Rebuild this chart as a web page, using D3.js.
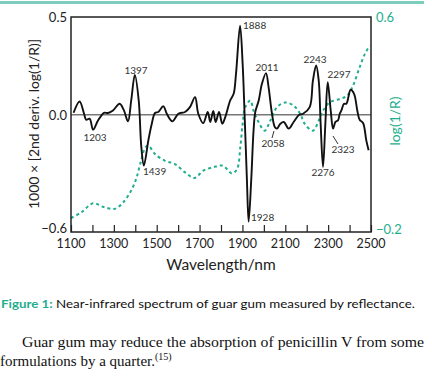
<!DOCTYPE html>
<html>
<head>
<meta charset="utf-8">
<script src="https://cdn.jsdelivr.net/npm/d3@7"></script>
<style>
  body { margin: 0; background: #fff; }
  text { font-family: "Lato", "DejaVu Sans", sans-serif; }
</style>
</head>
<body>
<script>
var width = 432,
    height = 389;

// 2nd derivative spectrum (left axis)
var derivNm = [1112, 1140, 1161, 1171, 1187, 1203, 1226, 1254, 1273, 1296, 1327, 1347, 1366, 1381, 1398, 1416, 1428, 1440,
  1461, 1477, 1492, 1507, 1531, 1547, 1573, 1601, 1632, 1655, 1679, 1694, 1717, 1738, 1750, 1764, 1775, 1791, 1806,
  1820, 1843, 1859, 1870, 1889, 1901, 1910, 1921, 1929, 1941, 1952, 1960, 1976, 1991, 2010, 2022, 2038, 2051, 2061,
  2077, 2093, 2116, 2139, 2165, 2183, 2214, 2229, 2244, 2256, 2265, 2276, 2287, 2298, 2312, 2323, 2334, 2346, 2354,
  2362, 2374, 2385, 2405, 2421, 2436, 2447, 2463, 2478, 2489];
var derivVal = [0.01, 0.068, 0.005, -0.026, -0.02, -0.077, -0.03, 0.01, 0.009, 0.022, 0.056, 0.022, -0.034, 0.073, 0.204, 0.073, -0.163, -0.26,
  -0.131, -0.046, 0.009, 0.014, 0.043, 0.005, -0.034, 0.005, 0.014, 0.039, 0.09, 0.005, -0.043, 0.014, -0.037, 0.019, -0.037, 0.014, -0.046,
  -0.012, 0.073, 0.107, 0.209, 0.456, 0.26, 0.005, -0.335, -0.547, -0.335, -0.08, 0.014, 0.073, 0.158, 0.213, 0.141, 0.005, -0.063, -0.071,
  -0.046, -0.037, -0.071, -0.037, 0.0, 0.005, 0.039, 0.175, 0.252, 0.175, -0.046, -0.267, -0.046, 0.167, 0.022, -0.071, -0.037, -0.029, 0.005,
  0.022, 0.056, 0.056, 0.128, 0.107, 0.022, -0.026, -0.042, -0.131, -0.182];

// log(1/R) spectrum (right axis)
var logNm = [1100, 1148, 1203, 1249, 1304, 1343, 1381, 1405, 1425, 1447, 1461, 1492, 1539, 1585, 1632, 1676, 1717, 1764, 1808,
  1851, 1875, 1890, 1901, 1913, 1937, 1952, 1976, 2004, 2030, 2061, 2100, 2139, 2170, 2191, 2229, 2256, 2276, 2307, 2354,
  2389, 2416, 2447, 2471, 2494];
var logVal = [-0.148, -0.127, -0.093, -0.106, -0.114, -0.09, -0.046, 0.0, 0.059, 0.115, 0.121, 0.09, 0.065, 0.053, 0.022, 0.001, 0.028, 0.041, 0.047,
  0.018, 0.034, 0.115, 0.202, 0.264, 0.289, 0.251, 0.208, 0.177, 0.214, 0.264, 0.282, 0.27, 0.239, 0.202, 0.177, 0.214, 0.251, 0.282, 0.295,
  0.307, 0.344, 0.413, 0.462, 0.493];

var xTicks = [1100, 1300, 1500, 1700, 1900, 2100, 2300, 2500];
var yLeftTicks = [0.5, 0.0, -0.6];
var yRightTicks = [0.6, -0.2];

var peakNames = ["1203", "1397", "1439", "1888", "1928", "2011", "2058", "2243", "2276", "2297", "2323"];

var teal = "#1fae8e";

var x = d3.scaleLinear().domain([1100, 2500]).range([71, 371]);
var yL = d3.scaleLinear().domain([-0.6, 0.5]).range([232, 17]);
var yR = d3.scaleLinear().domain([-0.2, 0.6]).range([232, 17]);

var svg = d3.select("body").append("svg")
    .attr("width", width)
    .attr("height", height);

// teal rule at top
svg.append("rect")
    .attr("x", 0).attr("y", 1)
    .attr("width", 424).attr("height", 3)
    .attr("fill", "#7fcdbd");

// zero line
svg.append("line")
    .attr("x1", x(1100)).attr("x2", x(2500))
    .attr("y1", yL(0)).attr("y2", yL(0))
    .attr("stroke", "#777").attr("stroke-width", 1.5);

// x ticks (inside)
svg.append("g")
    .attr("transform", "translate(0," + yL(-0.6) + ")")
    .call(d3.axisBottom(x).tickValues(d3.range(1100, 2501, 100)).tickSize(-7).tickFormat(""))
    .call(g => g.select(".domain").remove())
    .selectAll("line").attr("stroke", "#222").attr("stroke-width", 1.2);

var xLab = svg.append("g").attr("font-size", 12.5).attr("text-anchor", "middle");
xTicks.forEach(function(t) {
  xLab.append("text").attr("x", x(t)).attr("y", 248).attr("fill", "#222").text(t);
});

svg.append("text")
    .attr("x", 221).attr("y", 270)
    .attr("text-anchor", "middle")
    .attr("font-size", 15.5)
    .attr("fill", "#222")
    .text("Wavelength/nm");

function fmt(t) {
  return t < 0 ? "\u2212" + Math.abs(t).toFixed(1) : t.toFixed(1);
}

yLeftTicks.forEach(function(t) {
  svg.append("text")
    .attr("x", 67).attr("y", t < 0 ? yL(t) + 1 : yL(t) + 5)
    .attr("text-anchor", "end")
    .attr("font-size", 13)
    .attr("fill", "#222")
    .text(fmt(t));
});

yRightTicks.forEach(function(t) {
  svg.append("text")
    .attr("x", 376).attr("y", t < 0 ? yR(t) + 2 : yR(t) + 5)
    .attr("font-size", 13)
    .attr("fill", teal)
    .text(fmt(t));
});

svg.append("text")
    .attr("transform", "translate(39,124) rotate(-90)")
    .attr("text-anchor", "middle")
    .attr("font-size", 14)
    .attr("fill", "#222")
    .text("1000 \u00d7 [2nd deriv. log(1/R)]");

svg.append("text")
    .attr("transform", "translate(400,121) rotate(-90)")
    .attr("text-anchor", "middle")
    .attr("font-size", 14)
    .attr("fill", teal)
    .text("log(1/R)");

// log(1/R) dashed
var logData = logNm.map(function(d, i) { return [d, logVal[i]]; });
svg.append("path")
    .datum(logData)
    .attr("fill", "none")
    .attr("stroke", teal)
    .attr("stroke-width", 2)
    .attr("stroke-dasharray", "3,3")
    .attr("d", d3.line().x(d => x(d[0])).y(d => yR(d[1])).curve(d3.curveCatmullRom));

// derivative
var derivData = derivNm.map(function(d, i) { return [d, derivVal[i]]; });
svg.append("path")
    .datum(derivData)
    .attr("fill", "none")
    .attr("stroke", "#111")
    .attr("stroke-width", 1.9)
    .attr("d", d3.line().x(d => x(d[0])).y(d => yL(d[1])).curve(d3.curveCatmullRom));

// frame
svg.append("rect")
    .attr("x", x(1100)).attr("y", yL(0.5))
    .attr("width", x(2500) - x(1100)).attr("height", yL(-0.6) - yL(0.5))
    .attr("fill", "none")
    .attr("stroke", "#222")
    .attr("stroke-width", 1.5);

// peak labels
var peakPos = {
  "1203": [95, 141, "middle"], "1397": [136, 74, "middle"], "1439": [143, 175, "start"],
  "1888": [243, 29, "start"], "1928": [251, 221, "start"], "2011": [267, 71, "middle"],
  "2058": [273, 147, "middle"], "2243": [315, 63, "middle"], "2276": [323, 176, "middle"],
  "2297": [339, 78, "middle"], "2323": [343, 153, "middle"]
};
peakNames.forEach(function(p) {
  var q = peakPos[p];
  svg.append("text")
    .attr("x", q[0]).attr("y", q[1])
    .attr("text-anchor", q[2])
    .attr("font-size", 10)
    .attr("fill", "#333")
    .text(p);
});
svg.append("line").attr("x1", 274).attr("y1", 131).attr("x2", 272).attr("y2", 138).attr("stroke", "#333");
svg.append("line").attr("x1", 333).attr("y1", 136).attr("x2", 338).attr("y2", 144).attr("stroke", "#333");

// caption
var cap = svg.append("text").attr("x", 1).attr("y", 308).attr("font-size", 11.5);
cap.append("tspan").attr("font-weight", "bold").attr("fill", teal).text("Figure 1: ");
cap.append("tspan").attr("fill", "#111").text("Near-infrared spectrum of guar gum measured by reflectance.");
cap.attr("textLength", 414).attr("lengthAdjust", "spacingAndGlyphs");

svg.append("text")
    .attr("x", 22).attr("y", 347)
    .attr("style", "font-family: 'Liberation Serif', serif")
    .attr("font-size", 15)
    .attr("fill", "#111")
    .attr("textLength", 402).attr("lengthAdjust", "spacingAndGlyphs")
    .text("Guar gum may reduce the absorption of penicillin V from some");

var l3 = svg.append("text")
    .attr("x", 0).attr("y", 366)
    .attr("style", "font-family: 'Liberation Serif', serif")
    .attr("font-size", 15)
    .attr("fill", "#111");
l3.append("tspan").text("formulations by a quarter.");
l3.append("tspan").attr("font-size", 10).attr("dy", -6).text("(15)");
</script>
</body>
</html>
